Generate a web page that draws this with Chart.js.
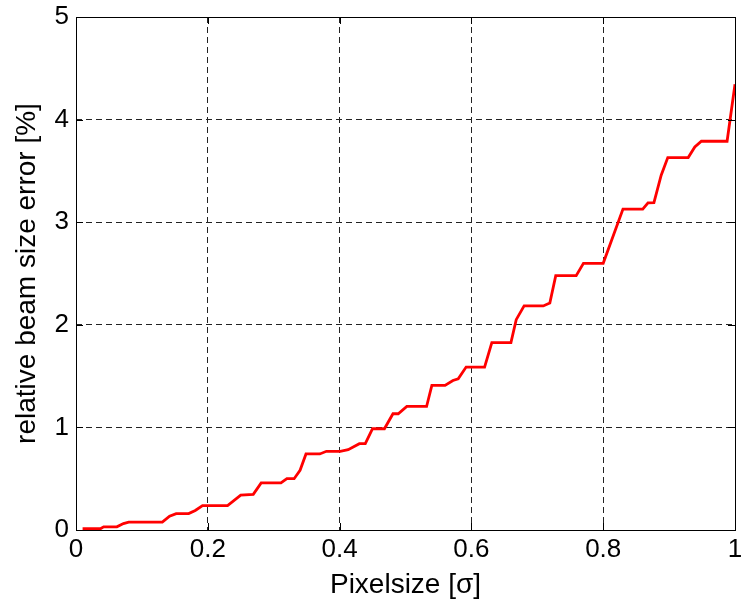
<!DOCTYPE html>
<html>
<head>
<meta charset="utf-8">
<script src="https://cdn.jsdelivr.net/npm/chart.js@4"></script>
<style>
html,body{margin:0;padding:0;background:#fff;}
#wrap{width:746px;height:602px;position:relative;}
</style>
</head>
<body>
<div id="wrap"><canvas id="c" width="746" height="602"></canvas></div>
<script>
const xs = [0.01,0.037,0.042,0.062,0.072,0.08,0.131,0.142,0.152,0.171,0.181,0.192,0.23,0.25,0.269,0.281,0.311,0.32,0.331,0.34,0.349,0.37,0.38,0.401,0.413,0.43,0.439,0.45,0.468,0.481,0.489,0.502,0.532,0.54,0.56,0.572,0.58,0.592,0.62,0.631,0.66,0.668,0.68,0.709,0.719,0.728,0.759,0.77,0.8,0.83,0.86,0.868,0.877,0.888,0.898,0.929,0.939,0.949,0.988,1.0];
const ys = [0.012,0.012,0.031,0.031,0.063,0.076,0.076,0.134,0.16,0.16,0.19,0.238,0.238,0.339,0.348,0.459,0.459,0.5,0.5,0.582,0.741,0.741,0.767,0.767,0.783,0.841,0.841,0.987,0.987,1.133,1.133,1.204,1.204,1.409,1.409,1.457,1.474,1.588,1.588,1.827,1.827,2.05,2.184,2.184,2.213,2.479,2.479,2.599,2.599,3.128,3.128,3.189,3.19,3.458,3.63,3.63,3.733,3.789,3.789,4.344];
const xTicks = [0,0.2,0.4,0.6,0.8,1];
const xTickLabels = ['0','0.2','0.4','0.6','0.8','1'];
const yTicks = [0,1,2,3,4,5];
const yTickLabels = ['0','1','2','3','4','5'];
const xLabel = 'Pixelsize [σ]';
const yLabel = 'relative beam size error [%]';

const FONT = "'Liberation Sans', Arial, Helvetica, sans-serif";

const boxTicks = {
  id: 'boxTicks',
  afterDraw(chart) {
    const {ctx, chartArea: a, scales} = chart;
    ctx.save();
    ctx.strokeStyle = '#000';
    ctx.lineWidth = 1;
    ctx.setLineDash([]);
    const L = 7;
    ctx.beginPath();
    xTicks.forEach(v => {
      const px = Math.round(scales.x.getPixelForValue(v)) + 0.5;
      ctx.moveTo(px, a.bottom); ctx.lineTo(px, a.bottom - L);
      ctx.moveTo(px, a.top); ctx.lineTo(px, a.top + L);
    });
    yTicks.forEach(v => {
      const py = Math.round(scales.y.getPixelForValue(v)) + 0.5;
      ctx.moveTo(a.left, py); ctx.lineTo(a.left + L, py);
      ctx.moveTo(a.right, py); ctx.lineTo(a.right - L, py);
    });
    ctx.stroke();
    ctx.strokeRect(Math.round(a.left) + 0.5, Math.round(a.top) + 0.5, Math.round(a.right - a.left), Math.round(a.bottom - a.top));
    ctx.restore();
  }
};

new Chart(document.getElementById('c'), {
  type: 'scatter',
  data: {
    datasets: [{
      data: xs.map((x, i) => ({x: x, y: ys[i]})),
      showLine: true,
      borderColor: '#ff0000',
      backgroundColor: '#ff0000',
      borderWidth: 2.8,
      pointRadius: 0,
      tension: 0
    }]
  },
  options: {
    responsive: false,
    animation: false,
    devicePixelRatio: 1,
    layout: {padding: {top: 17, right: 11, left: 0, bottom: 0}},
    plugins: {legend: {display: false}, tooltip: {enabled: false}},
    scales: {
      x: {
        type: 'linear', min: 0, max: 1,
        afterBuildTicks(s) { s.ticks = xTicks.map(v => ({value: v})); },
        afterFit(s) { s.height = 72; s.paddingLeft = 0; s.paddingRight = 0; },
        ticks: {color: '#000', font: {family: FONT, size: 26}, padding: 4, maxRotation: 0,
                callback: (v) => { const i = xTicks.indexOf(v); return i >= 0 ? xTickLabels[i] : ''; }},
        grid: {color: '#222', lineWidth: 1, drawTicks: false},
        border: {display: false, dash: [6, 4]},
        title: {display: true, text: xLabel, color: '#000', font: {family: FONT, size: 28}, padding: {top: 0, bottom: 0}}
      },
      y: {
        type: 'linear', min: 0, max: 5,
        afterBuildTicks(s) { s.ticks = yTicks.map(v => ({value: v})); },
        afterFit(s) { s.width = 76; s.paddingTop = 0; s.paddingBottom = 0; },
        ticks: {color: '#000', font: {family: FONT, size: 26}, padding: 7,
                callback: (v) => { const i = yTicks.indexOf(v); return i >= 0 ? yTickLabels[i] : ''; }},
        grid: {color: '#222', lineWidth: 1, drawTicks: false},
        border: {display: false, dash: [6, 4]},
        title: {display: true, text: yLabel, color: '#000', font: {family: FONT, size: 28}, padding: {top: 10, bottom: 0}}
      }
    }
  },
  plugins: [boxTicks]
});
</script>
</body>
</html>
